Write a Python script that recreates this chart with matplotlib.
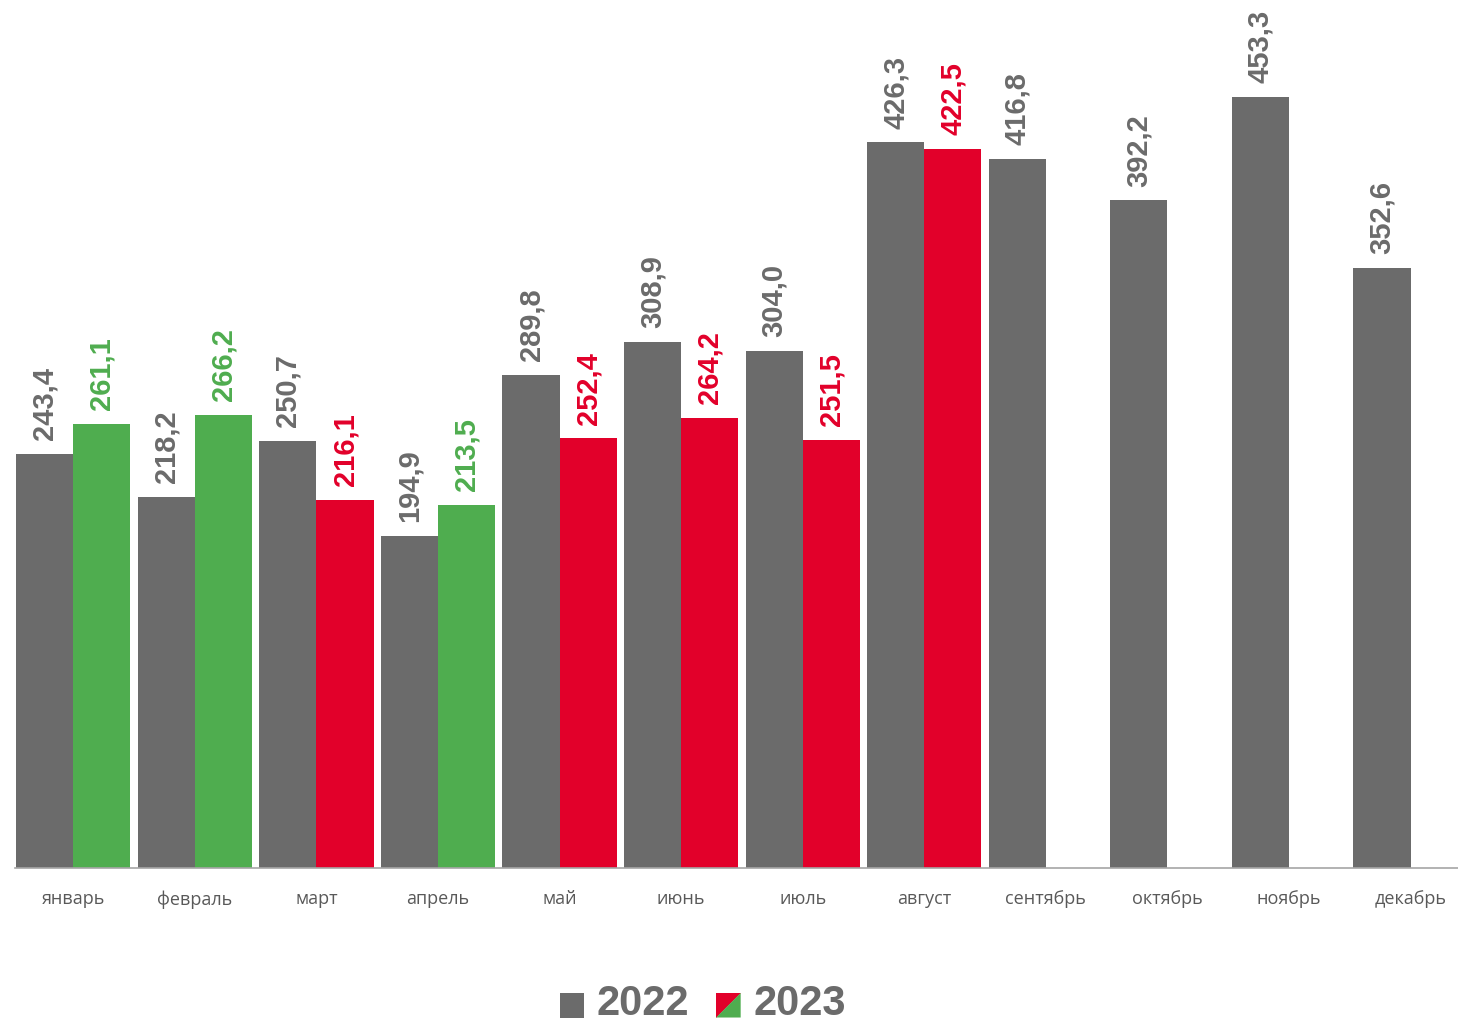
import matplotlib.pyplot as plt
from matplotlib.patches import Patch, Polygon
from matplotlib.legend_handler import HandlerBase

months = ['январь', 'февраль', 'март', 'апрель', 'май', 'июнь', 'июль',
          'август', 'сентябрь', 'октябрь', 'ноябрь', 'декабрь']
values_2022 = [243.4, 218.2, 250.7, 194.9, 289.8, 308.9, 304.0, 426.3, 416.8, 392.2, 453.3, 352.6]
values_2023 = [261.1, 266.2, 216.1, 213.5, 252.4, 264.2, 251.5, 422.5]

GRAY = '#6b6b6b'
GREEN = '#4fad4f'
RED = '#e2002a'


class SplitHandler(HandlerBase):
    # square split diagonally: red upper-left, green lower-right
    def create_artists(self, legend, orig_handle, xdescent, ydescent,
                       width, height, fontsize, trans):
        s = height
        x0 = -xdescent + width - s
        y0 = -ydescent - 0.12 * fontsize
        red = Polygon([[x0, y0], [x0, y0 + s], [x0 + s, y0 + s]], closed=True,
                      facecolor=RED, edgecolor='none', transform=trans)
        green = Polygon([[x0, y0], [x0 + s, y0 + s], [x0 + s, y0]], closed=True,
                        facecolor=GREEN, edgecolor='none', transform=trans)
        return [red, green]


class SquareHandler(HandlerBase):
    def create_artists(self, legend, orig_handle, xdescent, ydescent,
                       width, height, fontsize, trans):
        s = height
        p = plt.Rectangle((-xdescent + width - s, -ydescent - 0.12 * fontsize), s, s,
                          facecolor=GRAY, edgecolor='none', transform=trans)
        return [p]


fig = plt.figure(figsize=(14.58, 10.23), dpi=100)
ax = fig.add_axes([15 / 1458, 1 - 868 / 1023, 1 - 15 / 1458, 868 / 1023])

w = 0.47
x = list(range(len(months)))
ax.bar([i - w / 2 for i in x], values_2022, width=w, color=GRAY)
colors_2023 = [GREEN if v >= values_2022[i] else RED for i, v in enumerate(values_2023)]
ax.bar([i + w / 2 for i in range(len(values_2023))], values_2023, width=w, color=colors_2023)

for i, v in enumerate(values_2022):
    ax.annotate(f'{v:.1f}'.replace('.', ','), (i - w / 2, v), xytext=(0, 10),
                textcoords='offset points', rotation=90, ha='center', va='bottom',
                fontsize=21, fontweight='bold', color=GRAY, family='Liberation Sans')
for i, v in enumerate(values_2023):
    ax.annotate(f'{v:.1f}'.replace('.', ','), (i + w / 2, v), xytext=(0, 10),
                textcoords='offset points', rotation=90, ha='center', va='bottom',
                fontsize=21, fontweight='bold', color=colors_2023[i], family='Liberation Sans')

ax.set_xlim(-0.48, 11.39)
ax.set_ylim(0, 510)
ax.set_xticks(x)
ax.set_xticklabels(months, fontsize=13, color='#595959', family='Open Sans')
ax.tick_params(axis='x', length=0, pad=16)
ax.set_yticks([])
for s in ['top', 'right', 'left']:
    ax.spines[s].set_visible(False)
ax.spines['bottom'].set_color('#a6a6a6')
ax.spines['bottom'].set_linewidth(1.2)

h1 = Patch(color=GRAY)
h2 = Patch(color=RED)
leg = fig.legend([h1, h2], ['2022', '2023'], loc='center', bbox_to_anchor=(704 / 1458, 1 - 1004 / 1023),
                 ncol=2, frameon=False, handler_map={h1: SquareHandler(), h2: SplitHandler()},
                 prop={'family': 'Liberation Sans', 'weight': 'bold', 'size': 30},
                 handlelength=0.53, handleheight=0.53, handletextpad=0.3, columnspacing=0.7)
for t in leg.get_texts():
    t.set_color(GRAY)

plt.savefig('out.png', dpi=100)
